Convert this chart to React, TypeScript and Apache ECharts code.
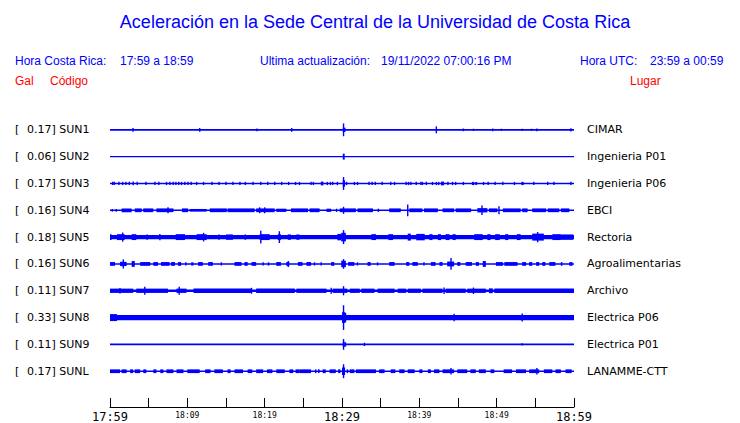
import React, { useEffect, useRef } from "react";
import * as echarts from "echarts";

// ---- Data ----
const stationCodes = ["SUN1", "SUN2", "SUN3", "SUN4", "SUN5", "SUN6", "SUN7", "SUN8", "SUN9", "SUNL"];
const galValues = ["0.17", "0.06", "0.17", "0.16", "0.18", "0.16", "0.11", "0.33", "0.11", "0.17"];
const places = ["CIMAR", "Ingenieria P01", "Ingenieria P06", "EBCI", "Rectoria", "Agroalimentarias", "Archivo", "Electrica P06", "Electrica P01", "LANAMME-CTT"];
const tickLabels = ["17:59", "18:09", "18:19", "18:29", "18:39", "18:49", "18:59"];
const majorLabels = ["17:59", "18:29", "18:59"];

// half-amplitude of the continuous background noise of each trace (trace spacing = 100)
const baseAmp = [3, 2.6, 3, 3, 8, 3, 5, 10, 3, 3];

// bands of noise: [startMinute, endMinute, halfAmplitude]; spikes: [minute, halfAmplitude]
const sun1Bands: number[][] = [[30.1, 30.45, 8]];
const sun1Spikes: number[][] = [[2.97, 7], [11.6, 7], [19.0, 5], [23.5, 7], [30.2, 24], [42.2, 13], [45.7, 5], [47.0, 4], [49.5, 5], [50.6, 4], [53.3, 4], [54.5, 4], [55.2, 5], [59.6, 6]];

const sun2Bands: number[][] = [[30.1, 30.35, 11]];
const sun2Spikes: number[][] = [];

const sun3Bands: number[][] = [[30.1, 30.4, 12], [42.8, 43.2, 7], [46.8, 47.1, 6], [53.2, 53.5, 6], [47.2, 47.5, 5]];
const sun3Spikes: number[][] = [
  [0.35, 6], [0.55, 6], [1.16, 6], [1.64, 6], [2.06, 6], [2.49, 6], [3.0, 7], [3.52, 6], [4.65, 6], [5.81, 6], [6.32, 6], [7.31, 6], [7.74, 6], [8.17, 6], [8.52, 6], [8.9, 6], [9.25, 6], [9.68, 6], [10.1, 6], [10.5, 6], [11.2, 6],
  [12.1, 6], [13.2, 6], [14.1, 6], [15.0, 6], [15.9, 6], [16.8, 6], [17.5, 6], [18.5, 6], [19.5, 6], [20.4, 6], [21.3, 6], [22.2, 6], [23.1, 6], [24.0, 6],
  [24.5, 6], [26.0, 6], [26.3, 6], [27.35, 7], [27.5, 7], [28.1, 6], [28.5, 6], [28.8, 6], [29.4, 6], [30.2, 24], [30.6, 6], [31.6, 6], [32.0, 6], [33.5, 6], [33.9, 6], [34.3, 6], [35.2, 6], [36.3, 6], [36.8, 6], [38.3, 6], [38.6, 6], [38.9, 6], [39.6, 6], [40.2, 6], [40.4, 6], [40.9, 6], [41.7, 6], [42.2, 6], [42.5, 6], [43.7, 6], [44.3, 6], [44.7, 6], [45.7, 6], [48.3, 6], [48.9, 6], [49.8, 6], [50.8, 6], [52.3, 6], [54.8, 6], [56.6, 6], [57.4, 6], [59.6, 6]
];

const sun4Bands: number[][] = [
  [1.5, 2.8, 7], [3.2, 4.1, 7], [4.3, 5.6, 7], [6.0, 8.2, 7], [9.3, 10.1, 7], [10.3, 12.5, 5], [12.9, 15.1, 7], [15.2, 18.7, 7], [18.9, 21.3, 7], [21.5, 22.8, 6], [23.4, 25.6, 7], [25.8, 27.1, 7], [28.0, 28.6, 6],
  [29.7, 31.8, 7], [32.0, 34.0, 7], [34.6, 34.8, 6], [36.1, 37.6, 7], [38.7, 40.4, 7], [40.6, 42.4, 7], [43.0, 44.5, 7], [44.7, 46.7, 7], [47.5, 48.8, 8], [49.0, 50.1, 7], [50.8, 53.1, 7], [53.3, 54.0, 7], [54.6, 56.4, 7], [56.6, 58.1, 7], [58.3, 59.4, 7]
];
const sun4Spikes: number[][] = [[0.3, 5], [0.8, 5], [7.5, 11], [19.35, 11], [20.0, 11], [29.3, 6], [30.2, 13], [38.5, 22], [48.1, 18], [50.3, 15]];

const sun5Bands: number[][] = [
  [0, 0.2, 11], [0.9, 1.9, 11], [2.8, 3.4, 11], [4.7, 4.9, 10], [8.5, 9.7, 11], [11.2, 12.5, 11], [14.0, 14.2, 10], [15.0, 15.9, 10], [17.4, 17.6, 10], [19.35, 20.65, 11], [21.7, 22.1, 11], [23.0, 23.4, 10], [24.1, 24.5, 10], [29.4, 29.9, 12], [29.9, 30.5, 16],
  [33.8, 34.4, 11], [36.0, 36.6, 11], [38.5, 38.9, 13], [39.6, 40.7, 12], [41.3, 41.7, 11], [42.4, 42.8, 11], [43.4, 43.9, 11], [44.3, 44.7, 11], [47.1, 48.2, 11], [48.8, 49.2, 11], [49.8, 50.4, 11], [51.1, 51.5, 11], [52.6, 53.1, 11], [54.6, 56.1, 13], [57.2, 58.3, 11], [58.3, 59.9, 10]
];
const sun5Spikes: number[][] = [[1.64, 17], [6.45, 12], [12.1, 16], [19.5, 24], [21.9, 22], [30.2, 26], [55.3, 19]];

const sun6Bands: number[][] = [
  [0, 0.65, 7], [1.3, 2.15, 8], [2.8, 3.2, 11], [3.9, 5.2, 7], [5.6, 6.2, 7], [6.6, 7.7, 7], [7.9, 8.4, 7], [8.8, 9.2, 7], [10.5, 10.8, 6], [11.4, 12.0, 7], [12.7, 13.3, 7], [16.1, 17.0, 7], [17.4, 17.8, 7], [18.3, 18.9, 7], [20.4, 20.6, 6], [21.5, 22.1, 7], [22.8, 23.2, 7], [24.3, 24.9, 7], [25.4, 26.0, 7], [28.6, 29.0, 7], [29.9, 30.5, 12],
  [30.8, 31.6, 7], [33.3, 33.7, 7], [36.1, 36.8, 7], [38.3, 38.7, 7], [39.1, 39.8, 7], [41.5, 42.1, 7], [42.6, 43.0, 7], [43.6, 44.5, 9], [44.9, 45.3, 7], [46.0, 46.8, 7], [47.3, 47.7, 7], [48.2, 48.6, 11], [49.9, 50.8, 7], [51.0, 52.7, 7], [53.3, 53.8, 7], [54.2, 54.6, 7], [55.1, 55.5, 7], [55.9, 56.3, 7], [56.8, 57.6, 7], [58.3, 58.5, 7], [59.4, 59.8, 7]
];
const sun6Spikes: number[][] = [[1.72, 17], [9.8, 6], [14.4, 6], [19.8, 6], [23.05, 11], [26.45, 6], [27.3, 6], [30.2, 18], [32.0, 6], [34.6, 6], [40.6, 6], [44.1, 22]];

const sun7Bands: number[][] = [
  [0, 3.0, 8], [3.4, 7.5, 8], [8.6, 9.9, 8], [10.8, 18.3, 8], [18.9, 23.9, 8], [24.1, 28.0, 8], [28.8, 30.7, 8],
  [31.0, 32.3, 8], [32.5, 34.2, 8], [34.6, 36.8, 8], [37.2, 38.3, 8], [38.5, 40.2, 8], [40.4, 43.0, 8], [43.4, 46.0, 8], [46.2, 48.6, 8], [49.0, 49.5, 9], [49.7, 60, 8]
];
const sun7Spikes: number[][] = [[1.29, 10], [4.5, 15], [8.95, 15], [18.3, 11], [28.6, 11], [30.2, 17], [43.2, 12], [47.0, 12]];

const sun8Bands: number[][] = [[0, 0.9, 13], [30.0, 30.4, 20]];
const sun8Spikes: number[][] = [[30.2, 46], [30.45, 18], [44.5, 14], [53.3, 15]];

const sun9Bands: number[][] = [[30.1, 30.35, 10]];
const sun9Spikes: number[][] = [[30.2, 20], [30.45, 8], [32.9, 6], [53.3, 4]];

const sunLBands: number[][] = [
  [0, 1.3, 7], [1.5, 2.15, 7], [2.6, 3.0, 7], [3.2, 3.9, 7], [4.3, 4.7, 7], [5.6, 6.0, 7], [6.5, 6.9, 7], [7.3, 8.2, 7], [8.6, 9.5, 7], [10.0, 11.6, 7],
  [12.3, 13.0, 7], [13.5, 14.6, 7], [15.2, 15.6, 7], [16.1, 17.2, 7], [17.8, 18.4, 7], [18.9, 19.8, 7], [20.3, 21.0, 7], [21.5, 22.6, 7], [23.2, 23.7, 7], [24.0, 24.5, 7],
  [24.5, 26.0, 7], [26.5, 26.7, 7], [26.9, 27.1, 7], [27.5, 27.9, 7], [28.4, 29.2, 7], [29.5, 29.8, 7], [30.0, 30.4, 14], [30.6, 30.8, 7],
  [31.0, 31.6, 7], [31.8, 34.4, 7], [34.8, 35.5, 7], [36.3, 36.9, 7], [37.4, 38.1, 7], [38.5, 39.4, 7], [40.0, 40.4, 7], [41.1, 41.5, 7], [41.9, 42.6, 7], [43.0, 44.5, 7], [44.9, 46.2, 7], [46.6, 47.3, 7], [47.7, 48.6, 7], [49.2, 49.7, 7], [50.9, 52.0, 7], [52.5, 53.8, 7], [54.2, 55.5, 7], [56.1, 57.2, 7], [57.6, 58.3, 7], [58.9, 59.7, 7]
];
const sunLSpikes: number[][] = [[30.2, 26], [44.1, 12], [55.2, 12]];

const bandsByStation = [sun1Bands, sun2Bands, sun3Bands, sun4Bands, sun5Bands, sun6Bands, sun7Bands, sun8Bands, sun9Bands, sunLBands];
const spikesByStation = [sun1Spikes, sun2Spikes, sun3Spikes, sun4Spikes, sun5Spikes, sun6Spikes, sun7Spikes, sun8Spikes, sun9Spikes, sunLSpikes];

const BLUE = "#0000ff";
const RED = "#ff0000";

function buildOption() {
  const series = stationCodes.map((code, i) => {
    const items: number[][] = [[0, 60, baseAmp[i]]];
    bandsByStation[i].forEach((b) => items.push([b[0], b[1], b[2]]));
    spikesByStation[i].forEach((s) => items.push([s[0], s[0], s[1]]));
    const center = (i + 1) * 100;
    return {
      type: "custom",
      name: code,
      clip: false,
      encode: { x: [0, 1], y: 2 },
      data: items,
      renderItem: (params: any, api: any) => {
        const t0 = api.value(0);
        const t1 = api.value(1);
        const a = api.value(2);
        const p0 = api.coord([t0, center - a]);
        const p1 = api.coord([t1, center + a]);
        let x = Math.min(p0[0], p1[0]);
        let w = Math.abs(p1[0] - p0[0]);
        if (w < 1.4) {
          x = (p0[0] + p1[0]) / 2 - 0.7;
          w = 1.4;
        }
        let y = Math.min(p0[1], p1[1]);
        let h = Math.abs(p1[1] - p0[1]);
        if (h < 1.4) {
          y = (p0[1] + p1[1]) / 2 - 0.7;
          h = 1.4;
        }
        return { type: "rect", shape: { x, y, width: w, height: h }, style: { fill: BLUE } };
      },
    };
  });

  const labelFont = "DejaVu Sans";
  const monoFont = "DejaVu Sans Mono";
  const headFont = "Liberation Sans";
  const headText = (text: string, x: number, y: number, color: string, align = "left") => ({
    type: "text",
    x,
    y,
    style: { text, fill: color, font: `12px "${headFont}"`, textAlign: align, textVerticalAlign: "middle" },
  });

  return {
    animation: false,
    backgroundColor: "#ffffff",
    grid: { left: 110, right: 166, top: 103, bottom: 14 },
    xAxis: {
      type: "value",
      position: "bottom",
      min: 0,
      max: 60,
      interval: 5,
      axisLine: { show: true, onZero: false, lineStyle: { color: "#000", width: 1 } },
      axisTick: { show: true, inside: true, length: 9, lineStyle: { color: "#000" } },
      splitLine: { show: false },
      axisLabel: {
        margin: 4,
        showMinLabel: true,
        showMaxLabel: true,
        color: "#000",
        formatter: (v: number) => {
          if (Math.abs(v % 10) > 0.001) return "";
          const lab = tickLabels[Math.round(v / 10)];
          if (!lab) return "";
          return majorLabels.includes(lab) ? `{big|${lab}}` : `{sm|${lab}}`;
        },
        rich: {
          big: { fontSize: 12, fontFamily: monoFont, fontWeight: "normal", color: "#000" },
          sm: { fontSize: 8, fontFamily: monoFont, fontWeight: "normal", color: "#000" },
        },
      },
    },
    yAxis: [
      {
        type: "value",
        inverse: true,
        min: 0,
        max: 1133.33,
        interval: 100,
        position: "left",
        axisLine: { show: false },
        axisTick: { show: false },
        splitLine: { show: false },
        axisLabel: {
          align: "left",
          margin: 95,
          showMaxLabel: false,
          formatter: (v: number) => {
            const i = Math.round(v / 100) - 1;
            if (i < 0 || i >= stationCodes.length) return "";
            return `{br|[}{t|${galValues[i]}] ${stationCodes[i]}}`;
          },
          rich: {
            br: { width: 12, fontSize: 11, fontFamily: labelFont, color: "#000" },
            t: { fontSize: 11, fontFamily: labelFont, color: "#000" },
          },
        },
      },
      {
        type: "value",
        inverse: true,
        min: 0,
        max: 1133.33,
        interval: 100,
        position: "right",
        axisLine: { show: false },
        axisTick: { show: false },
        splitLine: { show: false },
        axisLabel: {
          align: "left",
          margin: 13,
          showMaxLabel: false,
          fontSize: 11,
          fontFamily: labelFont,
          color: "#000",
          formatter: (v: number) => {
            const i = Math.round(v / 100) - 1;
            if (i < 0 || i >= places.length) return "";
            return places[i];
          },
        },
      },
    ],
    graphic: [
      {
        type: "text",
        x: 375,
        y: 22,
        style: {
          text: "Aceleración en la Sede Central de la Universidad de Costa Rica",
          fill: BLUE,
          font: `18px "${headFont}"`,
          textAlign: "center",
          textVerticalAlign: "middle",
        },
      },
      headText("Hora Costa Rica:", 15, 61, BLUE),
      headText("17:59 a 18:59", 120, 61, BLUE),
      headText("Ultima actualización:", 260, 61, BLUE),
      headText("19/11/2022 07:00:16 PM", 381, 61, BLUE),
      headText("Hora UTC:", 580, 61, BLUE),
      headText("23:59 a 00:59", 650, 61, BLUE),
      headText("Gal", 15, 81, RED),
      headText("Código", 50, 81, RED),
      headText("Lugar", 630, 81, RED),
    ],
    series,
  };
}

export default function App() {
  const ref = useRef<HTMLDivElement>(null);
  useEffect(() => {
    if (!ref.current) return;
    const chart = echarts.init(ref.current, undefined, { renderer: "svg" });
    chart.setOption(buildOption() as any);
    return () => chart.dispose();
  }, []);
  return <div ref={ref} style={{ position: "fixed", left: 0, top: 0, width: 740, height: 423, background: "#fff" }} />;
}
